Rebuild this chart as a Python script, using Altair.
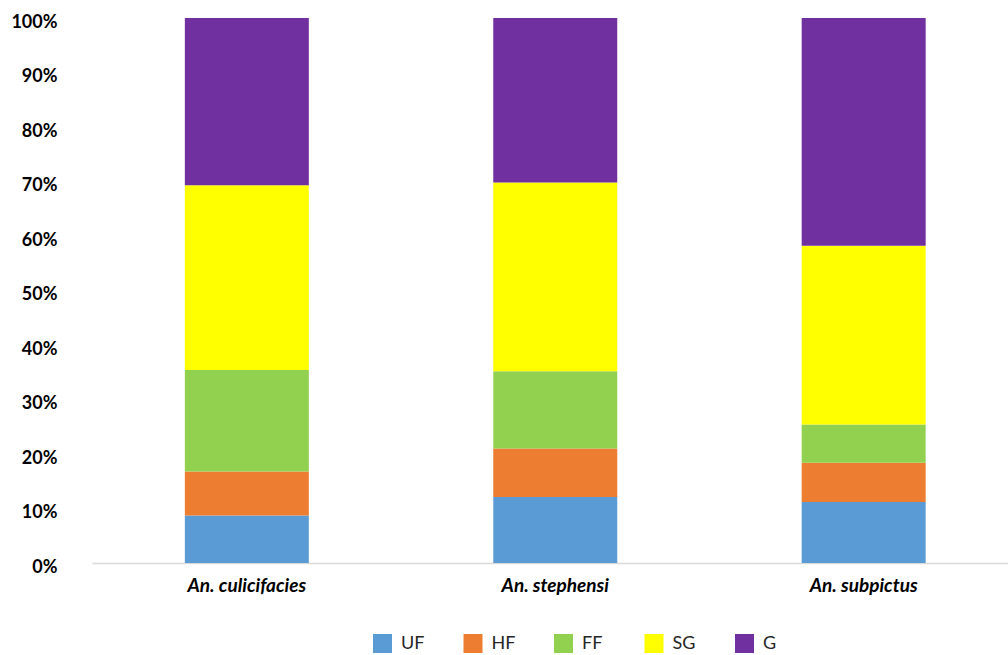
import altair as alt
import pandas as pd

species = ["An. culicifacies", "An. stephensi", "An. subpictus"]
stages = ["UF", "HF", "FF", "SG", "G"]
colors = ["#5B9BD5", "#ED7D31", "#92D050", "#FFFF00", "#7030A0"]

uf = [8.7, 12.1, 11.2]
hf = [8.1, 8.9, 7.2]
ff = [18.6, 14.2, 7.0]
sg = [33.9, 34.6, 32.8]
g = [30.7, 30.2, 41.8]

series = [uf, hf, ff, sg, g]
rows = []
for si, (stage, vals) in enumerate(zip(stages, series)):
    for sp, v in zip(species, vals):
        rows.append({"species": sp, "stage": stage, "idx": si, "value": v / 100.0})
df = pd.DataFrame(rows)

font = "Lato"

chart = alt.Chart(df).mark_bar().encode(
    x=alt.X(
        "species:N",
        sort=species,
        title=None,
        scale=alt.Scale(paddingInner=0.598, paddingOuter=0.284, align=0.53),
        axis=alt.Axis(
            labelAngle=0,
            labelFontSize=19,
            labelFontWeight="bold",
            labelFontStyle="italic",
            labelColor="#000000",
            labelFont=font,
            labelPadding=13,
            ticks=False,
            domainColor="#D9D9D9",
            domainWidth=1.5,
            grid=False,
        ),
    ),
    y=alt.Y(
        "value:Q",
        stack="zero",
        title=None,
        scale=alt.Scale(domain=[0, 1], nice=False),
        axis=alt.Axis(
            format=".0%",
            values=[i / 10 for i in range(11)],
            labelFontSize=18,
            labelFontWeight="bold",
            labelColor="#000000",
            labelFont=font,
            labelPadding=35,
            labelOffset=4,
            ticks=False,
            domain=False,
            grid=False,
        ),
    ),
    color=alt.Color(
        "stage:N",
        sort=stages,
        scale=alt.Scale(domain=stages, range=colors),
        legend=alt.Legend(
            title=None,
            orient="none",
            legendX=281,
            legendY=616,
            direction="horizontal",
            columns=5,
            gridAlign="all",
            symbolType="square",
            symbolSize=361,
            symbolStrokeWidth=0,
            labelFontSize=18,
            labelFont=font,
            labelColor="#262626",
            labelOffset=9,
            columnPadding=38.5,
        ),
    ),
    order=alt.Order("idx:Q", sort="ascending"),
).properties(
    width=916,
    height=545,
    background="white",
    autosize=alt.AutoSizeParams(type="none"),
    padding={"left": 92, "top": 18, "right": 0, "bottom": 92},
).configure_view(stroke=None, strokeWidth=0)

chart.save("out.html", embed_options={"renderer": "svg", "actions": False})
